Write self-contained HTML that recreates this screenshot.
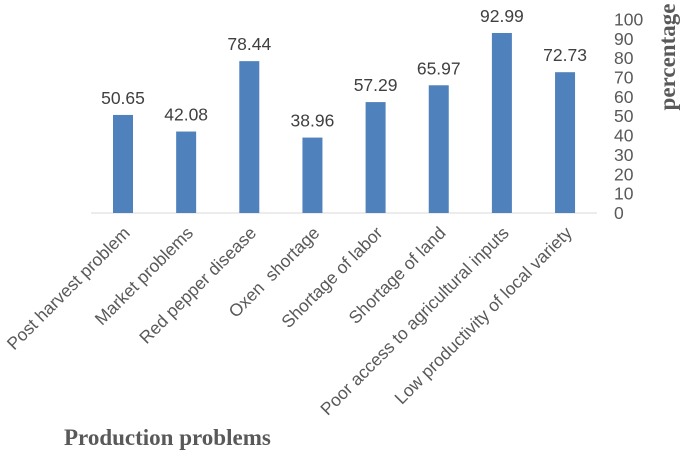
<!DOCTYPE html>
<html><head><meta charset="utf-8"><style>
html,body{margin:0;padding:0;background:#fff;width:685px;height:453px;overflow:hidden}
svg{display:block}
</style></head><body>
<svg id="chart" width="685" height="453" xmlns="http://www.w3.org/2000/svg"></svg>
<script>
const categories=["Post harvest problem","Market problems","Red pepper disease","Oxen  shortage","Shortage of labor","Shortage of land","Poor access to agricultural inputs","Low productivity of local variety"];
const values=[50.65,42.08,78.44,38.96,57.29,65.97,92.99,72.73];
const valueLabels=["50.65","42.08","78.44","38.96","57.29","65.97","92.99","72.73"];
const yTicks=[0,10,20,30,40,50,60,70,80,90,100];

const svg=document.getElementById('chart');
const NS='http://www.w3.org/2000/svg';
const y0=213,ppu=1.936;
function yS(v){return y0-v*ppu;}
function xS(i){return 123+i*63.15;}
function mk(t,a,txt){const e=document.createElementNS(NS,t);for(const k in a)e.setAttribute(k,a[k]);if(txt!==undefined)e.textContent=txt;svg.appendChild(e);return e;}
const font='"Liberation Sans", sans-serif';

const ax=mk('line',{x1:91,y1:y0,x2:597,y2:y0,stroke:'#d9d9d9','stroke-width':1});



yTicks.forEach(t=>{
  const e=mk('text',{x:614,y:yS(t)+6,'font-family':font,'font-size':17.5,fill:'#595959'},String(t));
  
  
});

values.forEach((v,i)=>{
  const cx=xS(i);
  const r=mk('rect',{x:cx-10,y:yS(v),width:20,height:v*ppu,fill:'#4f81bd'});
  
  
  const l=mk('text',{x:cx,y:yS(v)-11,'text-anchor':'middle','font-family':font,'font-size':17.5,fill:'#404040'},valueLabels[i]);
  
  
  const c=mk('text',{x:0,y:0,'text-anchor':'end','font-family':font,'font-size':17.5,fill:'#595959',transform:'translate('+(cx+8)+',234) rotate(-45)'},categories[i]);
  c.setAttribute('xml:space','preserve');
  c.style.whiteSpace='pre';
  
  
});

const yt=mk('text',{x:0,y:0,'text-anchor':'middle','font-family':'"Liberation Serif", serif','font-size':23,'font-weight':'bold',fill:'#595959',transform:'translate(675,57) rotate(-90)'},'percentage');


const xt=mk('text',{x:64,y:445,'font-family':'"Liberation Serif", serif','font-size':23,'font-weight':'bold',fill:'#595959'},'Production problems');


</script>
</body></html>
